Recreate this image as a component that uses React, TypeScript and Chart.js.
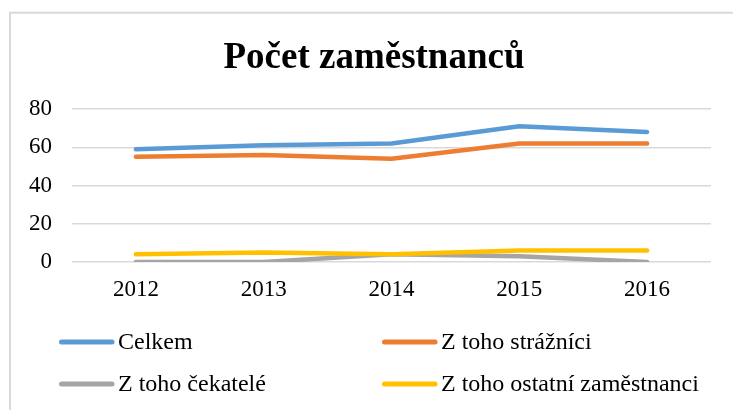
import React, { useEffect, useRef } from 'react';
import { Chart, registerables } from 'chart.js';

Chart.register(...registerables);

const chartTitle = 'Počet zaměstnanců';
const years = ['2012', '2013', '2014', '2015', '2016'];
const celkem = [59, 61, 62, 71, 68];
const straznici = [55, 56, 54, 62, 62];
const cekatele = [0, 0, 4, 3, 0];
const ostatni = [4, 5, 4, 6, 6];
const seriesNames = ['Celkem', 'Z toho strážníci', 'Z toho čekatelé', 'Z toho ostatní zaměstnanci'];
const seriesColors = ['#5B9BD5', '#ED7D31', '#A5A5A5', '#FFC000'];
const yMin = 0;
const yMax = 80;
const yStep = 20;

const FONT = '"Liberation Serif", "Times New Roman", serif';

const decorPlugin = {
  id: 'decor',
  beforeDraw(chart: any) {
    const ctx = chart.ctx;
    ctx.save();
    ctx.fillStyle = '#ffffff';
    ctx.fillRect(0, 0, chart.width, chart.height);
    ctx.strokeStyle = '#d9d9d9';
    ctx.lineWidth = 2;
    ctx.strokeRect(10, 12.7, 740, 430);
    ctx.restore();
  },
  afterDraw(chart: any) {
    const ctx = chart.ctx;
    ctx.save();
    // title
    ctx.fillStyle = '#000000';
    ctx.font = `bold 37px ${FONT}`;
    ctx.textAlign = 'center';
    ctx.textBaseline = 'alphabetic';
    ctx.fillText(chartTitle, 374, 68);
    // legend
    const colX = [59, 382];
    const rowY = [342, 384];
    ctx.font = `24px ${FONT}`;
    ctx.textAlign = 'left';
    ctx.textBaseline = 'alphabetic';
    chart.data.datasets.forEach((ds: any, i: number) => {
      const x = colX[i % 2];
      const y = rowY[Math.floor(i / 2)];
      ctx.strokeStyle = ds.borderColor;
      ctx.lineWidth = 5;
      ctx.lineCap = 'round';
      ctx.beginPath();
      ctx.moveTo(x + 2.5, y);
      ctx.lineTo(x + 53, y);
      ctx.stroke();
      ctx.fillStyle = '#000000';
      ctx.fillText(ds.label, x + 59, y + 7);
    });
    ctx.restore();
  },
};

export default function App() {
  const ref = useRef<HTMLCanvasElement | null>(null);
  useEffect(() => {
    if (!ref.current) return;
    const seriesData = [celkem, straznici, cekatele, ostatni];
    const chart = new Chart(ref.current, {
      type: 'line',
      data: {
        labels: years,
        datasets: seriesData.map((d, i) => ({
          label: seriesNames[i],
          data: d,
          borderColor: seriesColors[i],
          backgroundColor: seriesColors[i],
          borderWidth: 4.5,
          pointRadius: 0,
          pointHoverRadius: 0,
          tension: 0,
          borderCapStyle: 'round',
          borderJoinStyle: 'round',
          order: seriesData.length - 1 - i,
        })) as any,
      },
      options: {
        animation: false,
        responsive: false,
        maintainAspectRatio: false,
        events: [],
        layout: { padding: { left: 0, right: 22, top: 109, bottom: 108 } },
        plugins: {
          legend: { display: false },
          title: { display: false },
          tooltip: { enabled: false },
        },
        scales: {
          x: {
            offset: true,
            grid: { display: false, drawTicks: false },
            border: { display: false },
            ticks: {
              color: '#000000',
              font: { family: FONT, size: 23 },
              padding: 14,
              maxRotation: 0,
            },
            afterFit(scale: any) {
              scale.height = 40;
            },
          },
          y: {
            min: yMin,
            max: yMax,
            grid: { color: '#d9d9d9', lineWidth: 1.5, drawTicks: false },
            border: { display: false },
            ticks: {
              stepSize: yStep,
              color: '#000000',
              font: { family: FONT, size: 23 },
              padding: 20,
            },
            afterFit(scale: any) {
              scale.width = 72;
            },
          },
        },
      } as any,
      plugins: [decorPlugin],
    });
    return () => chart.destroy();
  }, []);
  return (
    <div style={{ position: 'absolute', left: 0, top: 0, width: 733, height: 410 }}>
      <canvas ref={ref} width={733} height={410} style={{ width: 733, height: 410 }} />
    </div>
  );
}
